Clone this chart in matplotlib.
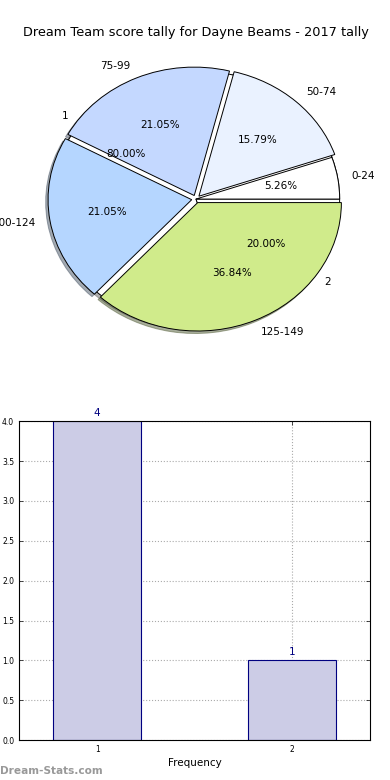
import matplotlib
matplotlib.use("Agg")
import matplotlib.pyplot as plt

# score ranges (outer pie) and frequency split (second pie)
score_labels = ["0-24", "50-74", "75-99", "100-124", "125-149"]
score_counts = [1, 3, 4, 4, 7]
score_colors = ["#ffffff", "#eaf2ff", "#c4d8ff", "#b5d6ff", "#d0eb8b"]
score_explode = [0, 0.03, 0.03, 0.03, 0.03]

freq_labels = ["1", "2"]
freq_counts = [4, 1]

bar_x = [1, 2]
bar_heights = [4, 1]

fig = plt.figure(figsize=(3.9, 7.8), dpi=100)

shadow = dict(ox=-0.012, oy=-0.014, shade=0.6)

# pie axes, not forced to equal aspect (slightly squashed like the original)
ax1 = fig.add_axes([0.042, 0.539, 0.921, 0.4116])
ax1.pie(freq_counts, labels=freq_labels, colors=["white", "white"],
        autopct="%.2f%%", shadow=shadow, startangle=0,
        wedgeprops=dict(edgecolor="black", linewidth=0.7),
        textprops=dict(fontsize=7.5))
ax1.pie(score_counts, labels=score_labels, colors=score_colors,
        explode=score_explode, autopct="%.2f%%", shadow=shadow, startangle=0,
        wedgeprops=dict(edgecolor="black", linewidth=0.7),
        textprops=dict(fontsize=7.5))
ax1.set_aspect("auto")
ax1.set_xlim(-1.25, 1.25)
ax1.set_ylim(-1.25, 1.25)
ax1.set_title("Dream Team score tally for Dayne Beams - 2017 tally",
              fontsize=9.3, pad=-1)

# bar chart
ax2 = fig.add_axes([0.049, 0.051, 0.9, 0.409])
bars = ax2.bar(bar_x, bar_heights, width=0.45, color="#cccce6",
               edgecolor="navy", linewidth=0.8)
for b, h in zip(bars, bar_heights):
    ax2.text(b.get_x() + b.get_width() / 2, h + 0.04, str(h),
             ha="center", va="bottom", color="navy", fontsize=7.5)
ax2.set_xlim(0.6, 2.4)
ax2.set_ylim(0, 4.0)
ax2.set_xticks(bar_x)
ax2.set_yticks([i * 0.5 for i in range(9)])
ax2.tick_params(labelsize=5.5, direction="in", top=True, right=True,
                length=3, width=0.5)
ax2.grid(True, linestyle=":", color="#aaaaaa", linewidth=0.8)
ax2.set_axisbelow(True)
ax2.set_xlabel("Frequency", fontsize=7.5, labelpad=3)
for s in ax2.spines.values():
    s.set_linewidth(0.8)

fig.text(0.0, 0.012, "Dream-Stats.com", color="#999999", fontsize=7.6,
         fontweight="bold", ha="left", va="center")

fig.savefig("out.png", dpi=100)
